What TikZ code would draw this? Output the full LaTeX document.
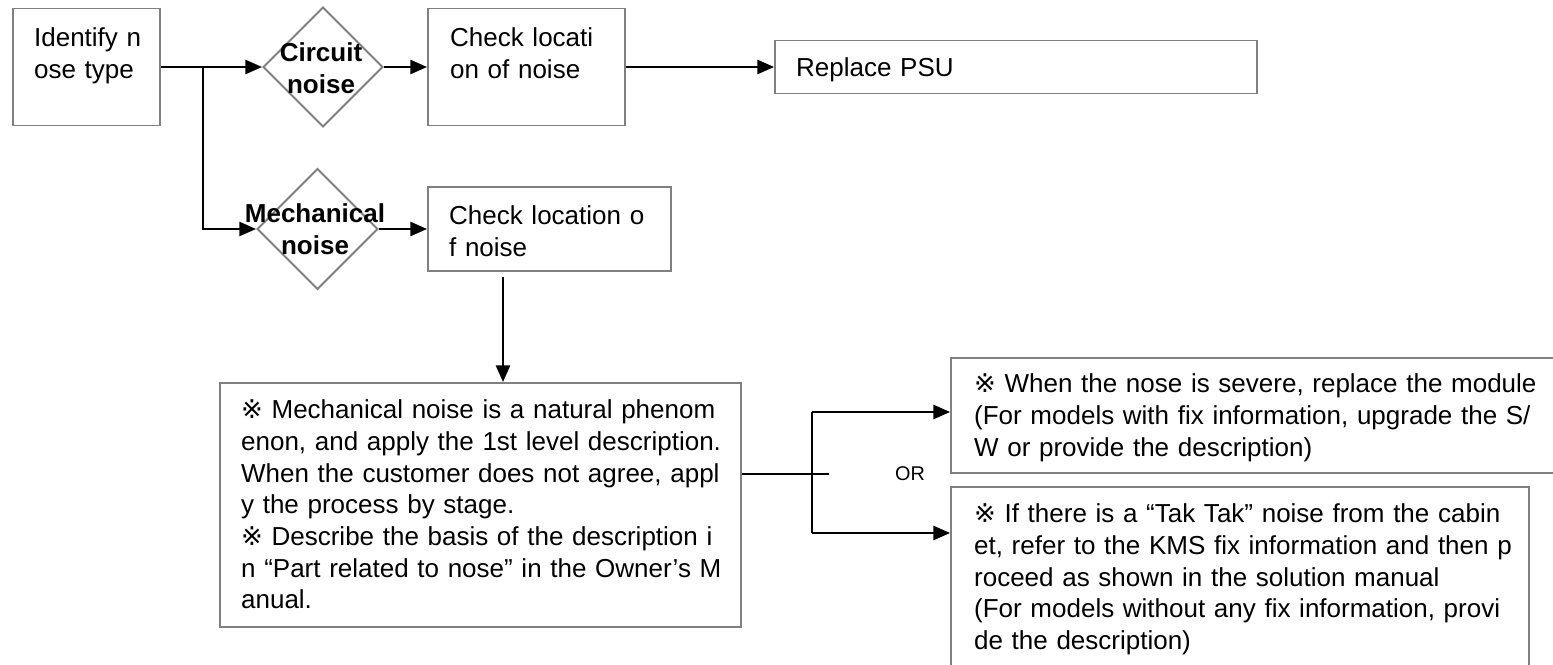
\documentclass[tikz,border=0pt]{standalone}
\usepackage{fontspec}
\setmainfont{Liberation Sans}
\newfontfamily\refmarkfont{DejaVu Sans}
\usepackage{xcolor}
\usepackage{tikz}
\usetikzlibrary{arrows.meta,positioning,shapes.geometric,calc}
\definecolor{boxgray}{HTML}{808080}
\newcommand{\rmark}{{\refmarkfont ※}}

\begin{document}
\begin{tikzpicture}[x=0.02cm,y=-0.02cm,>={Triangle[length=9.5pt,width=8pt]},line width=1.3pt,
  box/.style={draw=boxgray,line width=1.1pt,rectangle,inner sep=0pt},
  dia/.style={draw=boxgray,line width=1.1pt,diamond,inner sep=0pt,minimum width=2.4cm,minimum height=2.4cm},
  txt/.style={anchor=base west,inner sep=0pt,align=left,text width=12cm,font=\fontsize{14.8}{18}\selectfont},
  btxt/.style={inner sep=0pt,align=center,font=\fontsize{14.8}{18}\selectfont\bfseries}]
  \useasboundingbox (0,0) rectangle (1553,665);
  \clip (0,0) rectangle (1553,665);
  \node[box,minimum width=2.94cm,minimum height=2.34cm] (idbox) at (86.5,67) {};
  \node[dia] (circ) at (323,67) {};
  \node[box,minimum width=3.94cm,minimum height=2.34cm] (chk1) at (526.5,67) {};
  \node[box,minimum width=9.64cm,minimum height=1.06cm] (psu) at (1016,67) {};
  \node[dia,minimum width=2.42cm,minimum height=2.42cm] (mech) at (317.5,229) {};
  \node[box,minimum width=4.86cm,minimum height=1.68cm] (chk2) at (549.5,229) {};
  \node[box,minimum width=10.42cm,minimum height=4.88cm] (big) at (480.5,505) {};
  \node[box,minimum width=12.18cm,minimum height=2.3cm] (r1) at (1255.5,415.5) {};
  \node[box,minimum width=11.56cm,minimum height=3.86cm] (r2) at (1240,583.5) {};
  \node[txt] (idtxt) at (33,47) {Identify n\\ose type};
  \node[btxt] (circtxt) at (321,68.5) {Circuit\\noise};
  \node[txt] (chk1txt) at (449,47) {Check locati\\on of noise};
  \node[txt] (psutxt) at (795,77) {Replace PSU};
  \node[btxt] (mechtxt) at (315,229.5) {Mechanical\\noise};
  \node[txt] (chk2txt) at (448,225) {Check location o\\f noise};
  \node[txt] (bigtxt) at (240,419) {\rmark{} Mechanical noise is a natural phenom\\enon, and apply the 1st level description.\\When the customer does not agree, appl\\y the process by stage.\\\rmark{} Describe the basis of the description i\\n “Part related to nose” in the Owner’s M\\anual.};
  \node[txt] (r1txt) at (973,393) {\rmark{} When the nose is severe, replace the module\\(For models with fix information, upgrade the S/\\W or provide the description)};
  \node[txt] (r2txt) at (973,523) {\rmark{} If there is a “Tak Tak” noise from the cabin\\et, refer to the KMS fix information and then p\\roceed as shown in the solution manual\\(For models without any fix information, provi\\de the description)};
  \node[inner sep=0pt,font=\fontsize{11.3}{13}\selectfont] (orlbl) at (910,474) {OR};
  \coordinate (jn1) at (203,67);
  \coordinate (dn) at (503,277);
  \coordinate (jn2) at (812,474);
  \coordinate (stub) at (829,474);
  \coordinate (ortop) at (812,412);
  \coordinate (orbot) at (812,533);
  \draw[->] (idbox.east) -- (circ.west);
  \draw[->] (jn1) |- (mech.west);
  \draw[->] (circ.east) -- (chk1.west);
  \draw[->] (chk1.east) -- (psu.west);
  \draw[->] (mech.east) -- (chk2.west);
  \draw[->] (dn) -- (dn |- big.north);
  \draw (big.east |- jn2) -- (stub);
  \draw (ortop) -- (orbot);
  \draw[->] (ortop) -- (ortop -| r1.west);
  \draw[->] (orbot) -- (orbot -| r2.west);
\end{tikzpicture}
\end{document}
